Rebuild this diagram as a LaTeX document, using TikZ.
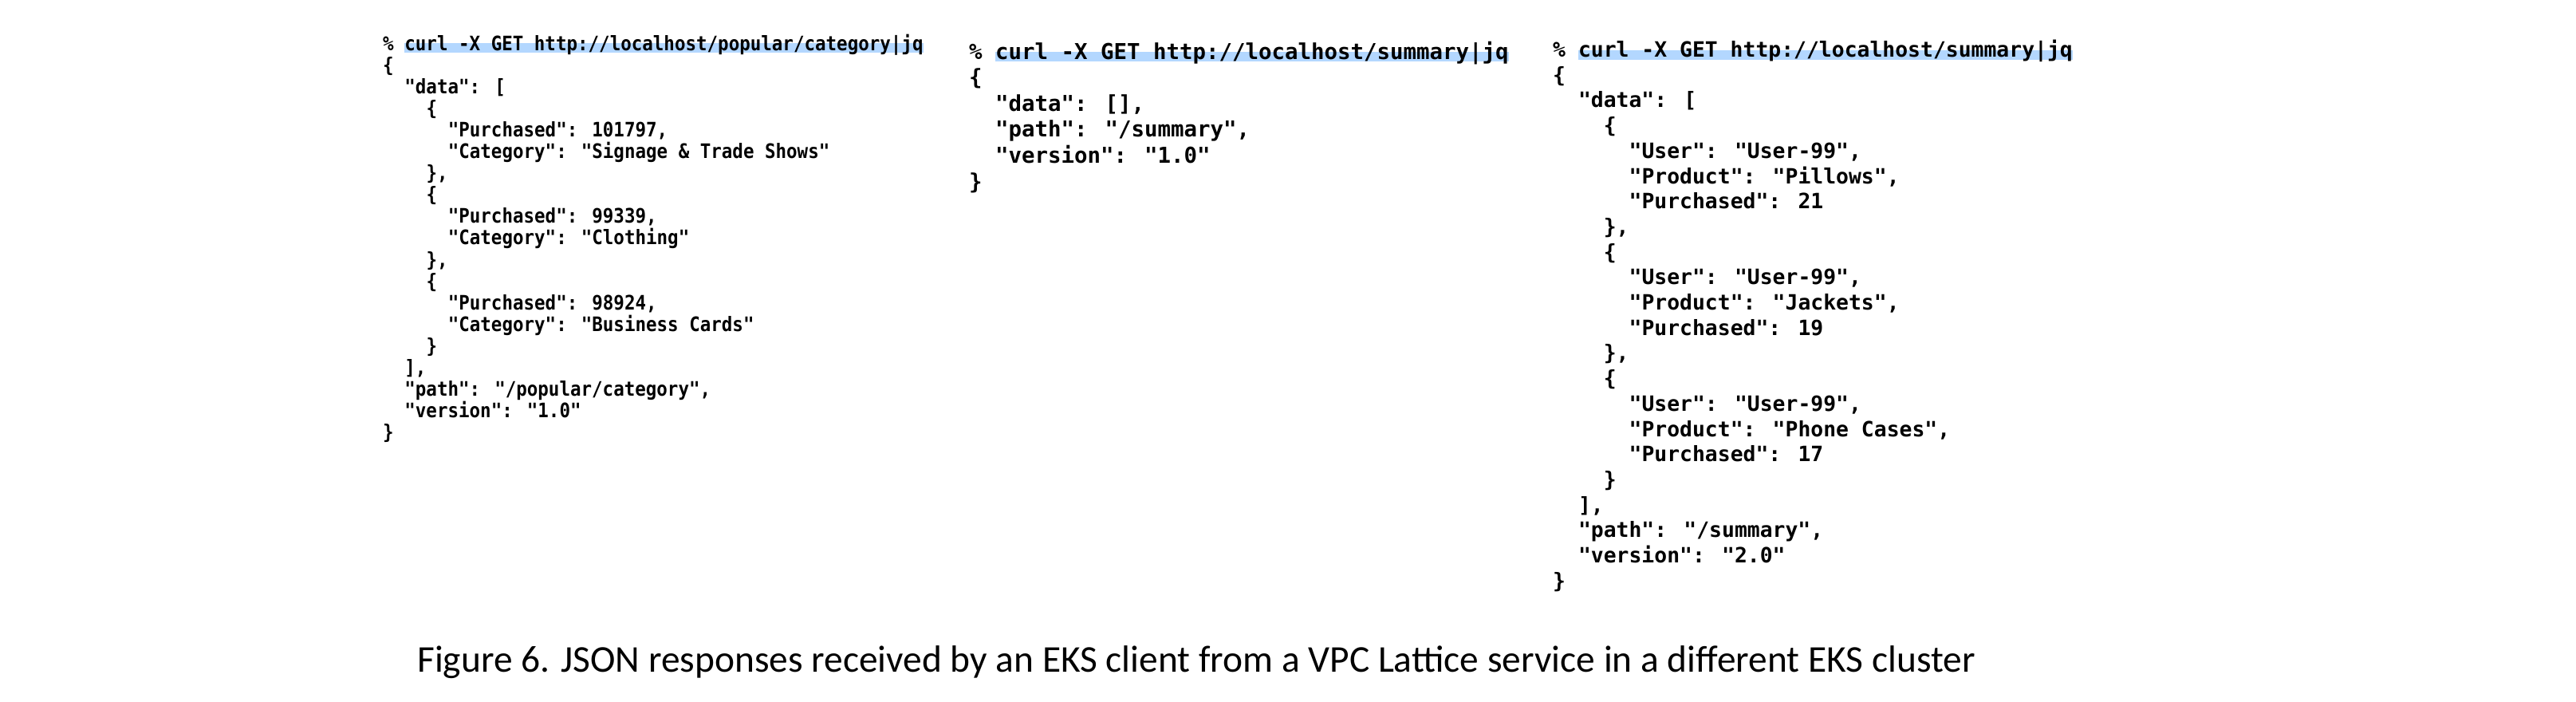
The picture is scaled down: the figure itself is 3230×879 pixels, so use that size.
\documentclass[tikz,border=0pt]{standalone}
\usepackage{fontspec}
\setmainfont{Carlito}
\newfontfamily\jm{DejaVu Sans Mono}
\definecolor{hl}{RGB}{179,215,255}
\newcommand\LA[4]{\node[la] (#1) at ({480+13.6*#3},{54+27.1*#2+9}) {\scalebox{0.9}[1]{#4}};}
\newcommand\LB[4]{\node[lb] (#1) at ({1215+16.5*#3},{64+32.6*#2+10}) {#4};}
\newcommand\LC[4]{\node[lc] (#1) at ({1947+15.9*#3},{62+31.7*#2+9.5}) {#4};}
\begin{document}
\begin{tikzpicture}[x=1pt,y=-1pt,
  ln/.style={anchor=base west,inner sep=0pt},
  la/.style={ln,font=\jm\bfseries\fontsize{25}{25}\selectfont},
  lb/.style={ln,font=\jm\bfseries\fontsize{27.4}{27.4}\selectfont},
  lc/.style={ln,font=\jm\bfseries\fontsize{26.4}{26.4}\selectfont},
  hlbox/.style={fill=hl,text height=0.9em,text depth=0.3em}]
\useasboundingbox (0,0) rectangle (3230,879);
% panel 1
\LA{a0}{0}{0}{\%}
\node[la,hlbox] (a0c) at ({480+13.6*2},{54+9}) {\scalebox{0.9}[1]{curl -X GET http://localhost/popular/category|jq}};
\LA{a1}{1}{0}{\{}
\LA{a2}{2}{2}{"data": [}
\LA{a3}{3}{4}{\{}
\LA{a4}{4}{6}{"Purchased": 101797,}
\LA{a5}{5}{6}{"Category": "Signage \& Trade Shows"}
\LA{a6}{6}{4}{\},}
\LA{a7}{7}{4}{\{}
\LA{a8}{8}{6}{"Purchased": 99339,}
\LA{a9}{9}{6}{"Category": "Clothing"}
\LA{a10}{10}{4}{\},}
\LA{a11}{11}{4}{\{}
\LA{a12}{12}{6}{"Purchased": 98924,}
\LA{a13}{13}{6}{"Category": "Business Cards"}
\LA{a14}{14}{4}{\}}
\LA{a15}{15}{2}{],}
\LA{a16}{16}{2}{"path": "/popular/category",}
\LA{a17}{17}{2}{"version": "1.0"}
\LA{a18}{18}{0}{\}}
% panel 2
\LB{b0}{0}{0}{\%}
\node[lb,hlbox] (b0c) at ({1215+16.5*2},{64+10}) {curl -X GET http://localhost/summary|jq};
\LB{b1}{1}{0}{\{}
\LB{b2}{2}{2}{"data": [],}
\LB{b3}{3}{2}{"path": "/summary",}
\LB{b4}{4}{2}{"version": "1.0"}
\LB{b5}{5}{0}{\}}
% panel 3
\LC{c0}{0}{0}{\%}
\node[lc,hlbox] (c0c) at ({1947+15.9*2},{62+9.5}) {curl -X GET http://localhost/summary|jq};
\LC{c1}{1}{0}{\{}
\LC{c2}{2}{2}{"data": [}
\LC{c3}{3}{4}{\{}
\LC{c4}{4}{6}{"User": "User-99",}
\LC{c5}{5}{6}{"Product": "Pillows",}
\LC{c6}{6}{6}{"Purchased": 21}
\LC{c7}{7}{4}{\},}
\LC{c8}{8}{4}{\{}
\LC{c9}{9}{6}{"User": "User-99",}
\LC{c10}{10}{6}{"Product": "Jackets",}
\LC{c11}{11}{6}{"Purchased": 19}
\LC{c12}{12}{4}{\},}
\LC{c13}{13}{4}{\{}
\LC{c14}{14}{6}{"User": "User-99",}
\LC{c15}{15}{6}{"Product": "Phone Cases",}
\LC{c16}{16}{6}{"Purchased": 17}
\LC{c17}{17}{4}{\}}
\LC{c18}{18}{2}{],}
\LC{c19}{19}{2}{"path": "/summary",}
\LC{c20}{20}{2}{"version": "2.0"}
\LC{c21}{21}{0}{\}}
% caption
\node[inner sep=0pt] (cap) at (1500,830) {\resizebox{1953pt}{!}{Figure 6. JSON responses received by an EKS client from a VPC Lattice service in a different EKS cluster}};
\end{tikzpicture}
\end{document}
